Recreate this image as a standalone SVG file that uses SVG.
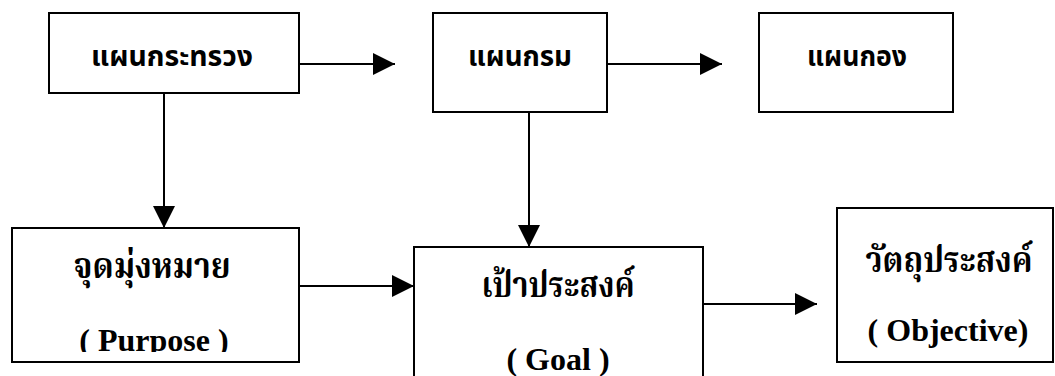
<svg xmlns="http://www.w3.org/2000/svg" width="1055" height="376" viewBox="0 0 1055 376">
<style>
.box{fill:#fff;stroke:#000;stroke-width:2}
.con{stroke:#000;stroke-width:2;fill:none}
.t1{font-family:"Noto Sans","Noto Sans Thai","DejaVu Sans",sans-serif;font-weight:bold;font-size:28px;text-anchor:middle;fill:#000}
.t2{font-family:"Liberation Serif","Noto Serif Thai","Noto Sans Thai",serif;font-weight:bold;font-size:36px;text-anchor:middle;fill:#000}
.t3{font-family:"Liberation Serif",serif;font-weight:bold;font-size:32px;text-anchor:middle;fill:#000}
</style>
<defs>
<marker id="ah" markerUnits="userSpaceOnUse" markerWidth="22" markerHeight="24" viewBox="0 0 22 24" refX="22" refY="12" orient="auto">
<path d="M0,1 L22,12 L0,23 Z" fill="#000"/>
</marker>
<clipPath id="clipP"><rect x="12" y="228" width="287" height="124"/></clipPath>
</defs>
<g id="connectors">
<line class="con" x1="299" y1="64" x2="395" y2="64" marker-end="url(#ah)"/>
<line class="con" x1="607" y1="64" x2="722" y2="64" marker-end="url(#ah)"/>
<line class="con" x1="164" y1="93" x2="164" y2="228" marker-end="url(#ah)"/>
<line class="con" x1="529" y1="112" x2="529" y2="247" marker-end="url(#ah)"/>
<line class="con" x1="299" y1="286" x2="414" y2="286" marker-end="url(#ah)"/>
<line class="con" x1="703" y1="304" x2="817" y2="304" marker-end="url(#ah)"/>
</g>
<g id="n1">
<rect class="box" x="49" y="13" width="250" height="80"/>
<text class="t1" x="172" y="66" textLength="162" lengthAdjust="spacingAndGlyphs">แผนกระทรวง</text>
</g>
<g id="n2">
<rect class="box" x="433" y="13" width="174" height="99"/>
<text class="t1" x="520" y="66" textLength="104" lengthAdjust="spacingAndGlyphs">แผนกรม</text>
</g>
<g id="n3">
<rect class="box" x="759" y="13" width="194" height="99"/>
<text class="t1" x="857" y="66" textLength="100" lengthAdjust="spacingAndGlyphs">แผนกอง</text>
</g>
<g id="n4">
<rect class="box" x="12" y="228" width="287" height="134"/>
<text class="t2" x="152" y="278" textLength="157" lengthAdjust="spacingAndGlyphs">จุดมุ่งหมาย</text>
<text class="t3" x="154" y="351" clip-path="url(#clipP)">( Purpose )</text>
</g>
<g id="n5">
<rect class="box" x="414" y="247" width="289" height="140"/>
<text class="t2" x="558" y="297" textLength="153" lengthAdjust="spacingAndGlyphs">เป้าประสงค์</text>
<text class="t3" x="558" y="370">( Goal )</text>
</g>
<g id="n6">
<rect class="box" x="837" y="208" width="216" height="154"/>
<text class="t2" x="949" y="272" textLength="167" lengthAdjust="spacingAndGlyphs">วัตถุประสงค์</text>
<text class="t3" x="948" y="341">( Objective)</text>
</g>
</svg>
